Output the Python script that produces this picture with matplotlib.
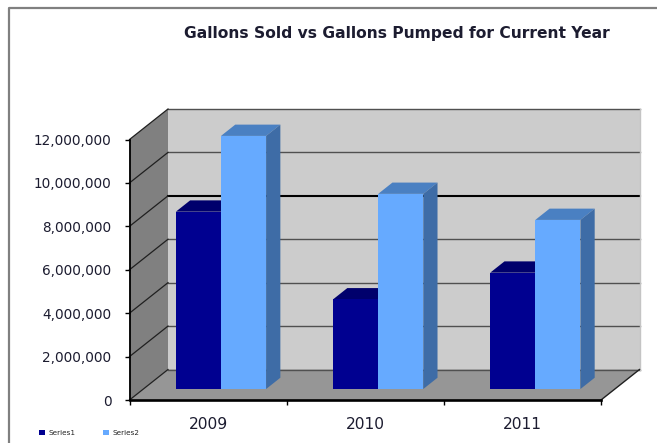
import matplotlib
matplotlib.use("Agg")
import matplotlib.pyplot as plt
from matplotlib.patches import Polygon
from matplotlib.ticker import FuncFormatter

categories = ["2009", "2010", "2011"]
series1 = [8170000, 4130000, 5360000]
series2 = [11660000, 8990000, 7790000]
series_names = ["Series1", "Series2"]
y_ticks = [0, 2000000, 4000000, 6000000, 8000000, 10000000, 12000000]

W, H = 657, 443
TEXT = "#1c1c30"
fig = plt.figure(figsize=(W / 100, H / 100), dpi=100, facecolor="white")
L, R, T, B = 129.5, 601.0, 139.5, 400.0
ax = fig.add_axes([L / W, 1 - B / H, (R - L) / W, (B - T) / H])
ax.set_xlim(-0.5, 2.5)
ax.set_ylim(0, 12000000)
ax.patch.set_alpha(0)

# oblique projection: depth d (0 front .. 1 back) moves a point right and up
DX = 38.5 / ((R - L) / 3)
DY = 30.5 / ((B - T) / 12000000)


def pr(x, y, d):
    return (x + d * DX, y + d * DY)


def face(pts, color, z, ec="none", lw=0):
    ax.add_patch(Polygon([pr(*p) for p in pts], closed=True, fc=color, ec=ec,
                         lw=lw, zorder=z, clip_on=False))


x0, x1 = -0.5, 2.5
top = y_ticks[-1]
face([(x0, 0, 1), (x1, 0, 1), (x1, top, 1), (x0, top, 1)], "#cccccc", 1)
face([(x0, 0, 0), (x0, 0, 1), (x0, top, 1), (x0, top, 0)], "#808080", 1)
face([(x0, 0, 0), (x1, 0, 0), (x1, 0, 1), (x0, 0, 1)], "#969696", 1)

for v in y_ticks:
    heavy = v == 8000000
    back_c = "#000000" if heavy else "#505050"
    back_w = 1.5 if heavy else 1.0
    xs, ys = zip(pr(x0, v, 1), pr(x1, v, 1))
    ax.plot(xs, ys, color=back_c, lw=back_w, zorder=2, clip_on=False)
    xs, ys = zip(pr(x0, v, 0), pr(x0, v, 1))
    ax.plot(xs, ys, color="#202020", lw=0.9, zorder=2, clip_on=False)

# right end of the back wall and floor edge
xs, ys = zip(pr(x1, 0, 1), pr(x1, top, 1))
ax.plot(xs, ys, color="#c4c4c4", lw=1.0, zorder=2, clip_on=False)
xs, ys = zip(pr(x1, 0, 0), pr(x1, 0, 1))
ax.plot(xs, ys, color="#202020", lw=1.0, zorder=2, clip_on=False)

BW = 0.287
D0, D1 = 0.36, 0.73
NUDGE = -0.006


def draw(i, v, off, front, topc, side, z, label=None):
    left = i + off + NUDGE
    right = left + BW
    face([(left, v, D0), (right, v, D0), (right, v, D1), (left, v, D1)], topc, z)
    face([(right, 0, D0), (right, 0, D1), (right, v, D1), (right, v, D0)], side, z)
    fx, fy = pr(left, 0, D0)
    return ax.bar(fx, v, width=BW, bottom=fy, align="edge", color=front, zorder=z + 1,
                  label=label, clip_on=False)


h1 = h2 = None
for i, (a, b) in enumerate(zip(series1, series2)):
    h1 = draw(i, a, -BW, "#000090", "#00006c", "#00006c", 3)
    h2 = draw(i, b, 0, "#66aaff", "#4a80c2", "#3e6ca6", 5)

# axes
for s in ("top", "right"):
    ax.spines[s].set_visible(False)
ax.spines["left"].set(color="#000000", lw=1.3, zorder=8)
ax.spines["bottom"].set(color="#000000", lw=1.9, zorder=8)
ax.set_yticks(y_ticks)
ax.yaxis.set_major_formatter(FuncFormatter(lambda v, _: f"{int(v):,}"))
ax.set_xticks([-0.5, 0.5, 1.5, 2.5])
ax.set_xticklabels([])
ax.set_xticks([0, 1, 2], labels=categories, minor=True)
ax.tick_params(axis="x", which="major", length=3.5, width=1.0, color="#000000", pad=3)
ax.tick_params(axis="x", which="minor", length=0, pad=12, labelsize=11.2, labelcolor=TEXT)
ax.tick_params(axis="y", length=3.5, width=1.0, color="#000000", pad=9.5, labelsize=9.85, labelcolor=TEXT)

fig.text(397 / W, 1 - 33.5 / H, "Gallons Sold vs Gallons Pumped for Current Year",
         ha="center", va="center", fontsize=11.2, fontweight="bold", color=TEXT)

fig.legend([h1, h2], series_names, ncol=2, frameon=False, fontsize=5.2, labelcolor="#222222",
           loc="center left", bbox_to_anchor=(39 / W, 1 - 433 / H), borderpad=0, borderaxespad=0,
           handlelength=0.8, handleheight=0.8, handletextpad=0.45, columnspacing=3.9)

# outer chart frame: left and top edges only
fig.add_artist(plt.Line2D([9 / W, 9 / W, 1], [0, 1 - 7.5 / H, 1 - 7.5 / H],
                          color="#808080", lw=1.6, transform=fig.transFigure))

fig.savefig("out.png", dpi=100)
